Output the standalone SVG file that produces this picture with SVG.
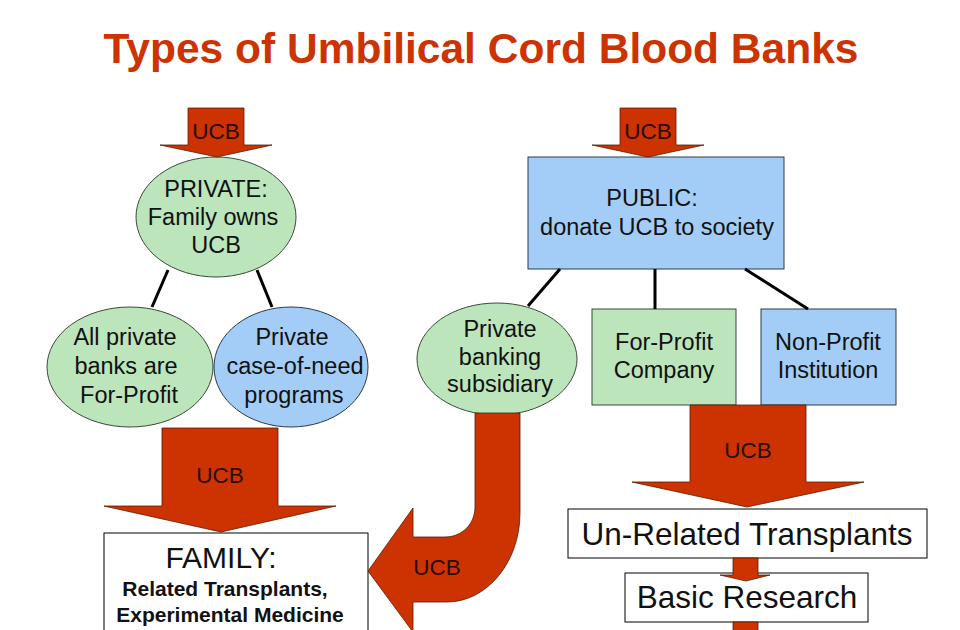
<svg xmlns="http://www.w3.org/2000/svg" width="960" height="630" viewBox="0 0 960 630">
<style>
text{font-family:"Liberation Sans",Arial,sans-serif;fill:#111;text-anchor:middle}
.title{font-size:42.5px;font-weight:bold;fill:#cc3300}
.t{font-size:23.5px}
.ucb{font-size:22.5px;fill:#2a0a00}
.big{font-size:31.5px}
.bold{font-size:21px;font-weight:bold}
.green{fill:#bce5bc;stroke:#3a4a3a;stroke-width:1}
.blue{fill:#a3cdf6;stroke:#2a3a4a;stroke-width:1}
.white{fill:#fff;stroke:#000;stroke-width:1}
.arrow{fill:#cc3300;stroke:#5a1a00;stroke-width:0.8}
.line{stroke:#000;stroke-width:3;fill:none}
</style>
<rect width="960" height="630" fill="#fff"/>
<text class="title" x="481" y="63">Types of Umbilical Cord Blood Banks</text>

<g id="private">
<ellipse class="green" cx="216" cy="217" rx="80" ry="60"/>
<text class="t" x="216" y="197">PRIVATE:</text>
<text class="t" x="213" y="225">Family owns</text>
<text class="t" x="216" y="253">UCB</text>
</g>
<g id="allprivate">
<ellipse class="green" cx="130" cy="367" rx="83" ry="60"/>
<text class="t" x="125" y="345">All private</text>
<text class="t" x="126" y="374">banks are</text>
<text class="t" x="129" y="403">For-Profit</text>
</g>
<g id="caseofneed">
<ellipse class="blue" cx="291" cy="367" rx="77" ry="60"/>
<text class="t" x="292" y="345">Private</text>
<text class="t" x="295" y="374">case-of-need</text>
<text class="t" x="294" y="403">programs</text>
</g>
<g id="family">
<rect class="white" x="104" y="533" width="264" height="110"/>
<text class="big" x="221" y="568" style="font-size:30px">FAMILY:</text>
<text class="bold" x="225" y="596">Related Transplants,</text>
<text class="bold" x="230" y="622">Experimental Medicine</text>
</g>
<g id="public">
<rect class="blue" x="528" y="157" width="256" height="112"/>
<text class="t" x="652" y="206">PUBLIC:</text>
<text class="t" x="657" y="235">donate UCB to society</text>
</g>
<g id="subsidiary">
<ellipse class="green" cx="497" cy="359" rx="80" ry="56"/>
<text class="t" x="500" y="337">Private</text>
<text class="t" x="500" y="365">banking</text>
<text class="t" x="500" y="392">subsidiary</text>
</g>
<g id="forprofit">
<rect class="green" x="592" y="309" width="144" height="96"/>
<text class="t" x="664" y="350">For-Profit</text>
<text class="t" x="664" y="378">Company</text>
</g>
<g id="nonprofit">
<rect class="blue" x="761" y="309" width="135" height="96"/>
<text class="t" x="828" y="350">Non-Profit</text>
<text class="t" x="828" y="378">Institution</text>
</g>
<g id="unrelated">
<rect class="white" x="568" y="509" width="359" height="49"/>
<text class="big" x="747" y="545">Un-Related Transplants</text>
</g>
<g id="basic">
<rect class="white" x="625" y="573" width="243" height="49"/>
<text class="big" x="747" y="608">Basic Research</text>
</g>

<g id="connectors">
<line class="line" x1="168" y1="270" x2="152" y2="307"/>
<line class="line" x1="257" y1="270" x2="272" y2="307"/>
<line class="line" x1="560" y1="269" x2="528" y2="306"/>
<line class="line" x1="655" y1="269" x2="655" y2="309"/>
<line class="line" x1="745" y1="269" x2="808" y2="309"/>

<path class="arrow" d="M188,108 H244 V145 H272 L217,157 L160,145 H188 Z"/>
<text class="ucb" x="216" y="139">UCB</text>
<path class="arrow" d="M620,108 H676 V145 H704 L648,157 L592,145 H620 Z"/>
<text class="ucb" x="648" y="139">UCB</text>

<path class="arrow" d="M162,428 H278 V506 H336 L221,532 L104,506 H162 Z"/>
<text class="ucb" x="220" y="483">UCB</text>

<path class="arrow" d="M690,405 H806 V482 H864 L747,507 L632,482 H690 Z"/>
<text class="ucb" x="748" y="458">UCB</text>

<path class="arrow" d="M475,413 L520,413 L520,513 C520,562 487,602 447,602 L413,602 L413,632 L368,571 L413,508 L413,537 L445,537 C462,537 475,524 475,507 Z"/>
<text class="ucb" x="437" y="575">UCB</text>

<path class="arrow" d="M733,558 H758 V575 H770 L746,581 L720,575 H733 Z"/>
<path class="arrow" d="M733,622 H758 V632 H733 Z"/>
</g>
</svg>
